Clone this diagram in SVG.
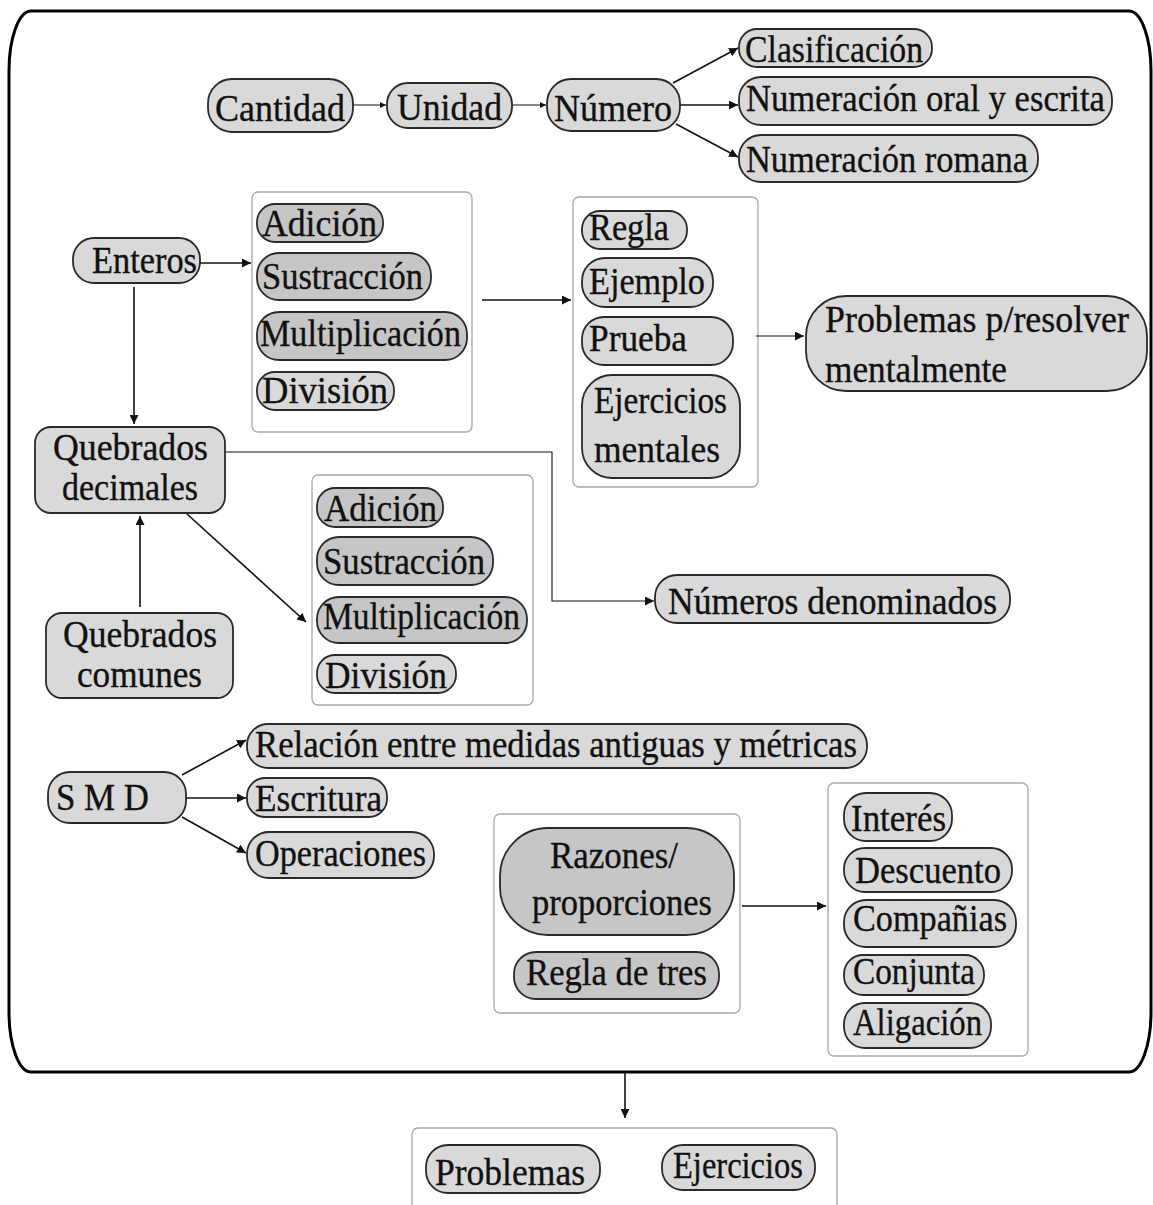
<svg xmlns="http://www.w3.org/2000/svg" width="1153" height="1205" viewBox="0 0 1153 1205">
  <style>
    text { font-family: "Liberation Serif", "DejaVu Serif", serif; font-size: 38px; fill: #111; stroke: #111; stroke-width: 0.35; }
    .n { fill: #d9d9d9; stroke: #2a2a2a; stroke-width: 1.8; }
    .d { fill: #c6c6c6; stroke: #2a2a2a; stroke-width: 1.8; }
    .box { fill: none; stroke: #a8a8a8; stroke-width: 1.3; }
    .c { fill: none; stroke: #111; stroke-width: 1.6; }
    .t { fill: none; stroke: #111; stroke-width: 1.1; }
  </style>
  <defs>
    <marker id="ah" markerUnits="userSpaceOnUse" markerWidth="10" markerHeight="9" refX="9" refY="4.5" orient="auto">
      <path d="M0,0 L9,4.5 L0,9 z" fill="#111"/>
    </marker>
    <marker id="as" markerUnits="userSpaceOnUse" markerWidth="7" markerHeight="6" refX="6" refY="3" orient="auto">
      <path d="M0,0 L6,3 L0,6 z" fill="#111"/>
    </marker>
  </defs>

  <!-- outer frame -->
  <path d="M31,11 H1129 A22,60 0 0 1 1151,71 V1012 A22,60 0 0 1 1129,1072 H31 A22,60 0 0 1 9,1012 V71 A22,60 0 0 1 31,11 Z" fill="none" stroke="#000" stroke-width="3"/>

  <!-- container boxes -->
  <g id="containers">
    <rect class="box" x="252" y="192" width="220" height="240" rx="6"/>
    <rect class="box" x="573" y="197" width="185" height="290" rx="6"/>
    <rect class="box" x="312" y="475" width="221" height="230" rx="6"/>
    <rect class="box" x="494" y="814" width="246" height="199" rx="6"/>
    <rect class="box" x="828" y="783" width="200" height="273" rx="6"/>
    <rect class="box" x="412" y="1128" width="425" height="90" rx="6"/>
  </g>

  <!-- connectors -->
  <g id="connectors">
    <path class="t" d="M353,105 H386" marker-end="url(#as)"/>
    <path class="t" d="M512,105 H546" marker-end="url(#as)"/>
    <path class="c" d="M673,83 L738,48" marker-end="url(#ah)"/>
    <path class="c" d="M680,105 H738" marker-end="url(#ah)"/>
    <path class="c" d="M676,124 L738,157" marker-end="url(#ah)"/>
    <path class="c" d="M200,263 H251" marker-end="url(#ah)"/>
    <path class="c" d="M134,287 V424" marker-end="url(#ah)"/>
    <path class="c" d="M482,300 H571" marker-end="url(#ah)"/>
    <path class="t" d="M756,336 H804" marker-end="url(#ah)"/>
    <path class="t" d="M225,452 H552 V601 H654" marker-end="url(#ah)"/>
    <path class="c" d="M187,514 L306,622" marker-end="url(#ah)"/>
    <path class="c" d="M140,607 V516" marker-end="url(#ah)"/>
    <path class="c" d="M182,775 L246,740" marker-end="url(#ah)"/>
    <path class="c" d="M187,798 H246" marker-end="url(#ah)"/>
    <path class="c" d="M182,817 L246,853" marker-end="url(#ah)"/>
    <path class="c" d="M742,906 H826" marker-end="url(#ah)"/>
    <path class="c" d="M625,1073 V1118" marker-end="url(#ah)"/>
  </g>

  <!-- top row -->
  <g id="cantidad"><rect class="n" x="208" y="79" width="145" height="53" rx="24"/><text x="215" y="121" font-size="42" textLength="130" lengthAdjust="spacingAndGlyphs">Cantidad</text></g>
  <g id="unidad"><rect class="n" x="387" y="83" width="125" height="45" rx="21"/><text x="397" y="120" font-size="41" textLength="105" lengthAdjust="spacingAndGlyphs">Unidad</text></g>
  <g id="numero"><rect class="n" x="547" y="79" width="133" height="52" rx="24"/><text x="554" y="121" font-size="41" textLength="118" lengthAdjust="spacingAndGlyphs">Número</text></g>
  <g id="clasificacion"><rect class="n" x="739" y="29" width="193" height="38" rx="18"/><text x="745" y="62" font-size="38" textLength="178" lengthAdjust="spacingAndGlyphs">Clasificación</text></g>
  <g id="numeracion-oral"><rect class="n" x="739" y="77" width="373" height="48" rx="22"/><text x="746" y="111" font-size="40" textLength="359" lengthAdjust="spacingAndGlyphs">Numeración oral y escrita</text></g>
  <g id="numeracion-romana"><rect class="n" x="739" y="135" width="299" height="47" rx="22"/><text x="746" y="172" font-size="38" textLength="282" lengthAdjust="spacingAndGlyphs">Numeración romana</text></g>

  <!-- enteros -->
  <g id="enteros"><rect class="n" x="73" y="238" width="127" height="45" rx="21"/><text x="92" y="273" font-size="38" textLength="105" lengthAdjust="spacingAndGlyphs">Enteros</text></g>
  <g id="adicion-1"><rect class="d" x="257" y="204" width="126" height="38" rx="18"/><text x="262" y="236" font-size="36" textLength="115" lengthAdjust="spacingAndGlyphs">Adición</text></g>
  <g id="sustraccion-1"><rect class="d" x="257" y="253" width="174" height="47" rx="22"/><text x="262" y="289" font-size="38" textLength="161" lengthAdjust="spacingAndGlyphs">Sustracción</text></g>
  <g id="multiplicacion-1"><rect class="d" x="257" y="312" width="210" height="48" rx="22"/><text x="260" y="346" font-size="38" textLength="201" lengthAdjust="spacingAndGlyphs">Multiplicación</text></g>
  <g id="division-1"><rect class="n" x="257" y="372" width="137" height="38" rx="18"/><text x="262" y="403" font-size="37" textLength="126" lengthAdjust="spacingAndGlyphs">División</text></g>

  <!-- regla / ejemplo / prueba -->
  <g id="regla"><rect class="n" x="582" y="211" width="105" height="38" rx="18"/><text x="589" y="240" font-size="37" textLength="80" lengthAdjust="spacingAndGlyphs">Regla</text></g>
  <g id="ejemplo"><rect class="n" x="582" y="258" width="131" height="49" rx="23"/><text x="589" y="294" font-size="38" textLength="116" lengthAdjust="spacingAndGlyphs">Ejemplo</text></g>
  <g id="prueba"><rect class="n" x="582" y="317" width="151" height="48" rx="22"/><text x="589" y="351" font-size="38" textLength="98" lengthAdjust="spacingAndGlyphs">Prueba</text></g>
  <g id="ejercicios-mentales"><rect class="n" x="582" y="375" width="158" height="103" rx="30"/><text x="594" y="413" font-size="38" textLength="133" lengthAdjust="spacingAndGlyphs">Ejercicios</text><text x="594" y="462" font-size="38" textLength="126" lengthAdjust="spacingAndGlyphs">mentales</text></g>
  <g id="problemas-mental"><rect class="n" x="806" y="296" width="341" height="95" rx="40"/><text x="825" y="332" font-size="40" textLength="304" lengthAdjust="spacingAndGlyphs">Problemas p/resolver</text><text x="825" y="382" font-size="40" textLength="182" lengthAdjust="spacingAndGlyphs">mentalmente</text></g>

  <!-- quebrados -->
  <g id="quebrados-decimales"><rect class="n" x="35" y="427" width="190" height="86" rx="16"/><text x="53" y="460" font-size="31" textLength="155" lengthAdjust="spacingAndGlyphs">Quebrados</text><text x="62" y="500" font-size="31" textLength="136" lengthAdjust="spacingAndGlyphs">decimales</text></g>
  <g id="quebrados-comunes"><rect class="n" x="46" y="613" width="187" height="85" rx="16"/><text x="63" y="647" font-size="31" textLength="154" lengthAdjust="spacingAndGlyphs">Quebrados</text><text x="77" y="687" font-size="31" textLength="125" lengthAdjust="spacingAndGlyphs">comunes</text></g>
  <g id="adicion-2"><rect class="d" x="317" y="488" width="126" height="39" rx="18"/><text x="324" y="521" font-size="37" textLength="113" lengthAdjust="spacingAndGlyphs">Adición</text></g>
  <g id="sustraccion-2"><rect class="d" x="317" y="537" width="176" height="48" rx="22"/><text x="323" y="574" font-size="38" textLength="162" lengthAdjust="spacingAndGlyphs">Sustracción</text></g>
  <g id="multiplicacion-2"><rect class="d" x="317" y="597" width="210" height="46" rx="22"/><text x="323" y="629" font-size="38" textLength="197" lengthAdjust="spacingAndGlyphs">Multiplicación</text></g>
  <g id="division-2"><rect class="n" x="317" y="655" width="139" height="38" rx="18"/><text x="325" y="688" font-size="37" textLength="122" lengthAdjust="spacingAndGlyphs">División</text></g>
  <g id="numeros-denominados"><rect class="n" x="655" y="575" width="355" height="48" rx="22" stroke-width="2.6" stroke="#111"/><text x="668" y="614" font-size="40" textLength="329" lengthAdjust="spacingAndGlyphs">Números denominados</text></g>

  <!-- SMD -->
  <g id="smd"><rect class="n" x="48" y="772" width="138" height="51" rx="22"/><text x="56" y="810" font-size="38" textLength="93" lengthAdjust="spacingAndGlyphs">S M D</text></g>
  <g id="relacion"><rect class="n" x="247" y="724" width="620" height="44" rx="21"/><text x="255" y="757" font-size="38" textLength="602" lengthAdjust="spacingAndGlyphs">Relación entre medidas antiguas y métricas</text></g>
  <g id="escritura"><rect class="n" x="247" y="778" width="140" height="39" rx="18"/><text x="255" y="811" font-size="37" textLength="127" lengthAdjust="spacingAndGlyphs">Escritura</text></g>
  <g id="operaciones"><rect class="n" x="247" y="832" width="187" height="46" rx="22"/><text x="255" y="866" font-size="38" textLength="171" lengthAdjust="spacingAndGlyphs">Operaciones</text></g>

  <!-- razones / proporciones -->
  <g id="razones"><rect class="d" x="500" y="828" width="234" height="107" rx="48"/><text x="550" y="868" font-size="39" textLength="128" lengthAdjust="spacingAndGlyphs">Razones/</text><text x="532" y="915" font-size="39" textLength="180" lengthAdjust="spacingAndGlyphs">proporciones</text></g>
  <g id="regla-de-tres"><rect class="d" x="514" y="952" width="205" height="47" rx="22"/><text x="526" y="985" font-size="38" textLength="181" lengthAdjust="spacingAndGlyphs">Regla de tres</text></g>
  <g id="interes"><rect class="n" x="844" y="793" width="108" height="48" rx="22"/><text x="851" y="831" font-size="38" textLength="95" lengthAdjust="spacingAndGlyphs">Interés</text></g>
  <g id="descuento"><rect class="n" x="844" y="848" width="168" height="44" rx="21"/><text x="855" y="883" font-size="38" textLength="146" lengthAdjust="spacingAndGlyphs">Descuento</text></g>
  <g id="companias"><rect class="n" x="844" y="900" width="172" height="47" rx="22"/><text x="853" y="931" font-size="38" textLength="154" lengthAdjust="spacingAndGlyphs">Compañias</text></g>
  <g id="conjunta"><rect class="n" x="844" y="955" width="140" height="40" rx="19"/><text x="853" y="984" font-size="38" textLength="122" lengthAdjust="spacingAndGlyphs">Conjunta</text></g>
  <g id="aligacion"><rect class="n" x="844" y="1003" width="147" height="45" rx="21"/><text x="853" y="1035" font-size="38" textLength="129" lengthAdjust="spacingAndGlyphs">Aligación</text></g>

  <!-- bottom -->
  <g id="problemas"><rect class="n" x="426" y="1145" width="174" height="48" rx="22"/><text x="435" y="1185" font-size="38" textLength="150" lengthAdjust="spacingAndGlyphs">Problemas</text></g>
  <g id="ejercicios"><rect class="n" x="662" y="1145" width="153" height="45" rx="21"/><text x="673" y="1178" font-size="38" textLength="130" lengthAdjust="spacingAndGlyphs">Ejercicios</text></g>
</svg>
